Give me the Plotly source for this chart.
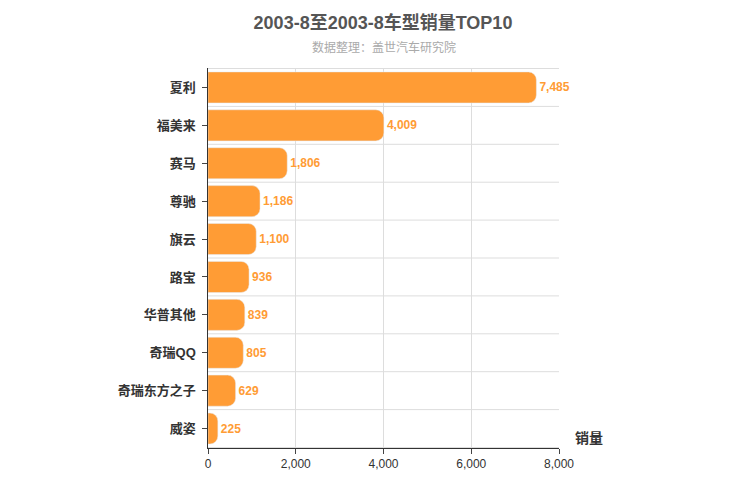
import plotly.graph_objects as go

# data
models = ["夏利", "福美来", "赛马", "尊驰", "旗云", "路宝", "华普其他", "奇瑞QQ", "奇瑞东方之子", "威姿"]
sales = [7485, 4009, 1806, 1186, 1100, 936, 839, 805, 629, 225]

bar_color = "#ff9c35"

fig = go.Figure(go.Bar(
    x=sales, y=models, orientation="h",
    marker=dict(color=bar_color, cornerradius=8),
    width=0.82,
    text=[f"<b>{v:,}</b>" for v in sales], textposition="outside",
    textfont=dict(color=bar_color, size=12),
    cliponaxis=False,
))

# separator lines between categories
for i in range(len(models) + 1):
    fig.add_shape(type="line", xref="paper", x0=0, x1=1, yref="y",
                  y0=i - 0.5, y1=i - 0.5, line=dict(color="#dddddd", width=1),
                  layer="below")

fig.update_layout(
    width=750, height=500,
    font=dict(family="Liberation Sans, Noto Sans CJK SC, sans-serif", color="#333"),
    plot_bgcolor="white", paper_bgcolor="white",
    margin=dict(l=200, r=199, t=60, b=60, autoexpand=False),
    title=dict(text="<b>2003-8至2003-8车型销量TOP10</b>", x=0.5, y=0.97,
               xanchor="center", yanchor="middle", font=dict(size=18, color="#555")),
    annotations=[
        dict(text="数据整理：盖世汽车研究院", xref="paper", yref="paper", x=0.5, y=1.053,
             yanchor="middle", showarrow=False, font=dict(size=12, color="#aaa")),
        dict(text="<b>销量</b>", xref="paper", yref="paper", x=1.04, y=0, yanchor="bottom",
             xanchor="left", showarrow=False, font=dict(size=14, color="#333")),
    ],
    xaxis=dict(range=[0, 8000], dtick=2000, tickformat=",", showgrid=True,
               gridcolor="#dddddd", zeroline=False, showline=True, linecolor="#333",
               ticks="outside", ticklen=5, tickfont=dict(size=12), automargin=False),
    yaxis=dict(autorange="reversed", showgrid=False, showline=True, linecolor="#333",
               ticks="outside", ticklen=5, automargin=False,
               tickfont=dict(size=13, color="#333", weight="bold"),
               ticksuffix=" "),
    showlegend=False,
)

fig.write_html("out.html")
